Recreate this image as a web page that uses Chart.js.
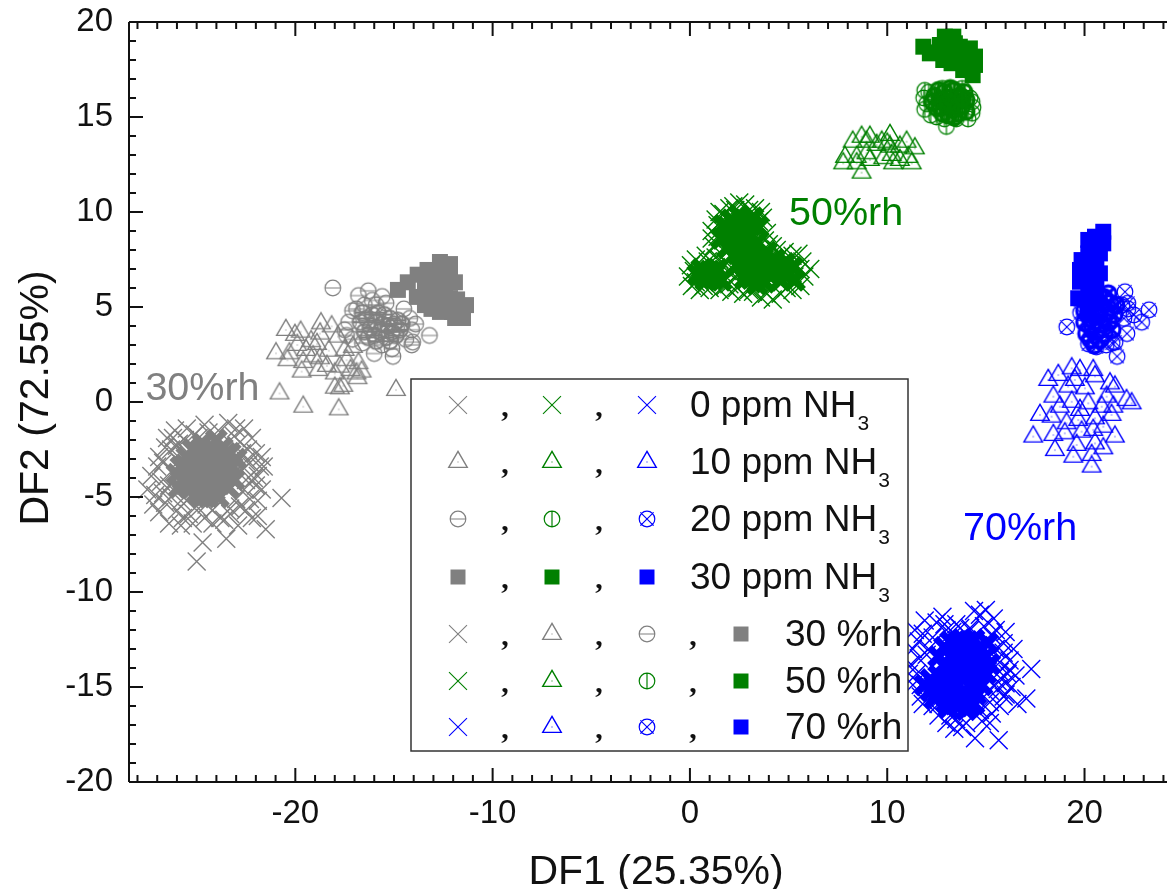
<!DOCTYPE html>
<html>
<head>
<meta charset="utf-8">
<title>DF1 vs DF2</title>
<script src="https://cdn.jsdelivr.net/npm/chart.js@4/dist/chart.umd.js"></script>
<style>
  html, body { margin: 0; padding: 0; background: #fff; overflow: hidden; }
  canvas { display: block; }
</style>
</head>
<body>
<canvas id="chart" width="1167" height="889"></canvas>
<script>
// === DATA ===
const xMajorTicks = [-20, -10, 0, 10, 20];
const yMajorTicks = [-20, -15, -10, -5, 0, 5, 10, 15, 20];
const xAxisTitle = 'DF1 (25.35%)';
const yAxisTitle = 'DF2 (72.55%)';

const groupLabels = [
  { text: '30%rh', x: -27.6, y: 0.1, color: '#808080' },
  { text: '50%rh', x: 5.02, y: 9.3, color: '#008000' },
  { text: '70%rh', x: 13.84, y: -7.26, color: '#0000ff' }
];

const ppmLabels = ['0 ppm NH', '10 ppm NH', '20 ppm NH', '30 ppm NH'];
const rhLabels = ['30 %rh', '50 %rh', '70 %rh'];

// 30 %rh
const gray0ppmCore = [[-25.8,-3.4],[-25.7,-4.1],[-25.5,-2.9],[-25.5,-3.7],[-25.4,-4.5],[-25.2,-2.5],[-25.2,-3.2],[-25.1,-4],[-25,-4.8],[-24.9,-2.8],[-24.9,-3.5],[-24.8,-4.3],[-24.7,-2.2],[-24.6,-3],[-24.6,-3.8],[-24.5,-4.6],[-24.4,-5],[-24.3,-2.5],[-24.3,-3.3],[-24.2,-4.1],[-24.1,-4.7],[-24,-2],[-24,-2.9],[-23.9,-3.6],[-23.8,-4.3],[-23.7,-2.4],[-23.6,-3.1],[-23.5,-3.9],[-23.4,-4.5],[-23.3,-2.7],[-23.2,-3.4],[-23.1,-4.1],[-26,-3.8],[-25.9,-4.5],[-24.8,-5],[-23.9,-5],[-23,-3],[-25.3,-3.6],[-25.6,-3.3],[-25,-3.1],[-24.7,-3.4],[-24.4,-3.7],[-24.1,-3.4],[-23.8,-3.1],[-24.1,-2.6],[-24.5,-2.7],[-24.8,-2.5],[-25,-4.4],[-24.4,-4.3],[-23.7,-4],[-25.4,-4.1],[-24.6,-4.9],[-24,-4.4],[-23.5,-3.5],[-23.5,-2.7]];
const gray0ppm = [[-27.5,-4.6],[-27.2,-5.4],[-27,-3.4],[-26.9,-2.9],[-26.8,-4.2],[-26.6,-5.3],[-26.5,-1.9],[-26.4,-6.4],[-26.3,-2.5],[-26.2,-3.7],[-26.1,-1.5],[-26,-5.7],[-25.9,-3.1],[-25.8,-5.2],[-25.6,-2],[-25.5,-1.4],[-25.4,-5.9],[-25,-8.4],[-24.7,-7.4],[-25.1,-1.7],[-24.9,-5.6],[-24.6,-6.1],[-24.4,-1.6],[-24.2,-5.7],[-23.9,-1.5],[-23.6,-6.2],[-23.5,-7.2],[-23.4,-1.1],[-23.3,-5.6],[-23.1,-1.8],[-23,-5.1],[-22.9,-6.5],[-22.8,-2.1],[-22.7,-3.6],[-22.6,-4.6],[-22.5,-5.7],[-22.4,-2.5],[-22.3,-3.2],[-22.2,-6.1],[-22.1,-4],[-22,-2.7],[-21.9,-5.2],[-21.8,-3.4],[-21.7,-2.9],[-21.5,-6.7],[-20.7,-5.05],[-27.3,-3.9],[-26.7,-4.8],[-22.6,-1.4],[-22,-4.4],[-24.5,-5.4],[-26,-2.3],[-27.1,-4.9],[-26.9,-5.8],[-26.7,-3.2],[-26.6,-2.4],[-26.4,-4.4],[-26.3,-5],[-26.2,-1.9],[-25.9,-2.2],[-25.7,-6.1],[-25.5,-5.2],[-25.2,-6.4],[-24.9,-1.9],[-24.6,-1.2],[-24.2,-6.4],[-23.8,-6.1],[-23.3,-5.9],[-23,-1.4],[-22.7,-2.7],[-22.5,-3.1],[-22.5,-4.1],[-22.3,-5.1],[-22.8,-5.5],[-22.2,-1.9],[-21.9,-3.9],[-21.7,-4.6],[-21.6,-3.4],[-21.9,-6],[-25.8,-6.5]];
const gray10ppm = [[-20.8,0.45],[-19.6,-0.25],[-17.8,-0.39],[-14.9,0.63],[-17.74,0.72],[-18,0.75],[-17.57,0.85],[-16.85,1.25],[-16.64,1.6],[-17.74,1.86],[-16.8,2.04],[-17.2,1.68],[-19.68,1.6],[-18.84,1.68],[-18.75,2.3],[-17.5,2.74],[-19.46,2.74],[-20.3,2.56],[-20.98,2.56],[-20.48,3.79],[-20.02,3.53],[-19.73,3.7],[-18.7,4.14],[-18.16,3.98],[-18.75,3.6],[-17.84,3.44],[-17.08,2.9],[-18.9,3.05],[-18.3,2.7],[-19.6,2.1],[-20.4,2.2],[-18,1.5],[-19.1,2.4],[-19.2,3.2],[-17.4,2.2],[-16.9,1.5],[-19.9,3],[-18.4,1.9]];
const gray20ppmCore = [[-16.7,4.2],[-16.5,3.7],[-16.4,4.4],[-16.2,3.9],[-16.1,4.6],[-16,3.5],[-15.9,4.2],[-15.8,4.7],[-15.7,3.7],[-15.6,4.1],[-15.5,4.6],[-15.4,3.4],[-15.3,4],[-15.2,4.4],[-15.1,3.7],[-15,4.1],[-14.9,3.5],[-14.8,4.3],[-14.7,3.8],[-14.6,4.1],[-16.3,3.4],[-16.6,4.7],[-15.9,3.2],[-15.2,3.2]];
const gray20ppm = [[-18.1,6],[-16.8,5.6],[-16.3,5.85],[-15.6,5.55],[-16.1,5.35],[-17.1,4.8],[-13.2,3.5],[-14.1,3],[-14.05,3.15],[-15.05,2.4],[-16,2.55],[-15.1,2.8],[-17.5,3.8],[-17.3,4.2],[-17.4,3.5],[-17.1,3.3],[-16.9,4.9],[-16.5,5.1],[-15.9,5.1],[-15.4,5.2],[-14.5,4.9],[-14.2,4.4],[-14.1,3.8],[-14.4,3.3],[-15.6,3],[-16.6,3.1],[-13.9,4.1]];
const gray30ppm = [[-14.8,5.9],[-14.3,6.3],[-13.8,6.7],[-13.3,6.95],[-12.67,7.37],[-12.16,7.26],[-13.43,6.26],[-12.82,6.58],[-12.16,6.68],[-13.84,5.53],[-13.18,5.79],[-12.42,6.05],[-11.91,6.3],[-13.43,5.1],[-12.77,5.26],[-12.16,5.47],[-11.35,5.1],[-11.5,4.42],[-12.06,4.74],[-12.67,4.74],[-11.9,4.42],[-13.1,4.9],[-11.8,5.4]];

// 50 %rh
const green0ppmCore = [[1.6,8.6],[1.7,9.3],[1.9,8.1],[2,8.9],[2.1,9.6],[2.3,8.3],[2.4,9.1],[2.5,9.8],[2.6,7.7],[2.7,8.6],[2.9,9.3],[3,8],[3.1,8.8],[3.2,9.7],[3.4,8.4],[3.45,9.2],[2.85,7.1],[3.1,6.5],[3.3,7.4],[3.5,6.8],[3.7,7.6],[3.8,6.3],[4,7.1],[4.1,6.6],[4.3,7.5],[4.5,6.9],[4.6,6.4],[4.8,7.3],[5,6.7],[5.2,7.1],[5.3,6.4],[3.4,6.2],[0.4,6.7],[0.6,7],[0.8,6.4],[1,6.9],[1.2,6.5],[1.4,7],[1.6,6.4],[2.4,7.2],[3.9,7.9],[2.8,6.5],[2.2,8.7],[2.6,9.4],[2.9,8.3],[2.3,9.4],[2.7,8.9],[3.1,9.3],[1.9,9.2],[3.1,7.7],[3.4,7],[3.7,6.9],[4.1,7.4],[4.4,7.2],[4.7,6.8],[3.6,6.5],[3.1,7.1],[0.7,6.7],[1.1,6.6],[1.3,6.8],[2.4,7.8],[2.9,6.8],[4.9,6.9]];
const green0ppm = [[-0.1,6.6],[0.05,7.2],[0.1,6.1],[0.3,7.5],[0.5,5.9],[0.8,7.7],[1,6],[1.3,7.6],[1.5,5.9],[1.9,6.9],[2,6.2],[2.1,5.8],[1.2,8.2],[1.1,9],[1.3,9.6],[1.5,10],[2,10.2],[2.5,10.5],[2.8,10.4],[3.3,10.2],[3.7,9.7],[3.9,8.9],[4,8.3],[4.4,8],[4.8,7.9],[5.2,7.7],[5.7,7.4],[6.1,7],[5.8,6.6],[5.6,6.1],[5.2,5.9],[4.6,5.7],[4.2,5.4],[3.6,5.5],[3.2,5.8],[2.7,5.7],[1.7,8],[2.3,10.1],[1.4,8.7],[3.6,10],[1.1,8.6],[1.4,9.3],[1.7,9.9],[2.2,10.3],[3,10.1],[3.5,9.5],[3.8,8.5],[1.5,7.5],[0.9,7.4],[0.2,6.9],[0.3,6.3],[0.7,6.1],[1.8,6.1],[2.3,6.6],[2.4,6],[3,5.9],[3.9,5.7],[4.9,6],[5.3,6.6],[5.6,7],[5.5,7.8],[4.6,7.7],[4.2,8.2],[1.8,7.4],[2.1,7.7]];
const green10ppm = [[8.7,12.07],[7.77,12.56],[8.25,13.7],[8.7,13.96],[8.95,13.7],[9.12,13.96],[7.86,12.9],[8.45,12.9],[8.95,13.09],[9.46,13.53],[9.72,13.7],[10.14,14.05],[10.14,13.44],[10.64,13.44],[10.98,13.7],[11.4,13.35],[11.07,12.9],[10.22,13],[9.8,12.83],[10.64,12.74],[11.24,12.56],[9.12,12.74],[8.45,12.56],[10.3,12.56],[10,13.6]];
const green20ppmCore = [[12.4,16.1],[12.5,15.5],[12.7,15.9],[12.8,15.2],[12.9,16.3],[13,15.6],[13.1,15.1],[13.2,16],[13.3,15.4],[13.4,16.4],[13.5,15.8],[13.6,15.2],[13.7,16.1],[13.8,15.6],[13.9,16.3],[14,15.3],[14,15.9],[12.6,16.4],[13.2,16.5],[12.3,15.8],[12.7,15.5],[13.4,15],[13.1,15.8],[13.6,15.5],[13.8,16]];
const green20ppm = [[11.9,16.4],[11.9,15.4],[13,14.5],[14.3,15.2],[14.35,15.5],[12.5,15],[13.8,16.5],[12.8,16.5],[11.85,16],[12.1,16.3],[12.2,15.1],[12.9,14.9],[13.5,14.9],[14.2,16],[14.1,14.9],[12,15.7],[14.3,15.8]];
const green30ppm = [[11.83,18.7],[12.92,19.23],[13.35,19.23],[13.43,18.88],[12.67,18.79],[13.68,18.7],[14.19,18.61],[14.45,18.18],[12.16,18.35],[12.84,18],[13.26,17.83],[13.85,17.9],[14.45,17.74],[13.85,17.47],[14.33,17.2],[13.35,18.35],[14.1,18.18],[12.6,18.4],[13.8,18.3]];

// 70 %rh
const blue0ppmCore = [[12.6,-13.4],[12.6,-14.4],[12.6,-15.3],[12.9,-12.9],[12.9,-13.9],[12.9,-14.9],[13,-15.8],[13.2,-12.6],[13.2,-13.4],[13.3,-14.4],[13.3,-15.4],[13.5,-13],[13.5,-14],[13.6,-14.9],[13.6,-16],[13.8,-12.5],[13.8,-13.5],[13.9,-14.4],[13.9,-15.5],[14.1,-13],[14.2,-13.9],[14.2,-14.9],[14.2,-16],[14.4,-12.5],[14.5,-13.4],[14.5,-14.4],[14.5,-15.4],[14.7,-12.9],[14.8,-13.9],[14.8,-14.9],[15,-13.4],[15,-14.3],[15.1,-12.7],[15.2,-13.8],[12.2,-14.6],[12.2,-15.2],[11.9,-14.9],[12.4,-15.6],[13.1,-16.1],[14,-16.2],[13.1,-13.9],[13.4,-13.5],[13.7,-14.4],[14,-13.5],[14.3,-13.4],[14.3,-14.4],[13.6,-13.9],[13,-14.4],[13.1,-14.9],[13.4,-15.9],[13.7,-15.4],[14.1,-15.4],[14.4,-14.9],[14.6,-13.9],[12.7,-14.9],[12.9,-15.4],[13.6,-12.6],[14.1,-12.6],[14.6,-13.2],[12.4,-14.9],[14.4,-15.9]];
const blue0ppm = [[17.3,-14.05],[17.05,-15.6],[15.65,-17.8],[15,-10.95],[14.45,-17.7],[14.7,-11.2],[14.2,-11.9],[13.5,-11.7],[13,-12],[12.5,-11.6],[11.9,-11.5],[11.4,-12],[11.3,-13],[11.2,-13.8],[11.6,-12.6],[12,-13.3],[11.3,-14.9],[11.7,-15.5],[12.3,-16],[12.6,-16.5],[13,-16.9],[13.5,-16.7],[13.8,-17.1],[14.8,-16.8],[15.3,-16.4],[15.7,-16],[16,-15.4],[16.3,-15],[16.5,-14.4],[16.2,-13.6],[16.4,-13],[15.9,-12.7],[16,-12.1],[15.5,-12],[15.4,-11.4],[15.7,-14.2],[15.6,-15.1],[15.2,-15.8],[14.4,-11],[16.6,-15.9],[16.1,-14.3],[11.1,-14.3],[12.8,-11.3],[15.9,-13.2],[11.6,-13.5],[11.5,-14.3],[11.7,-14.9],[11.8,-12.2],[12.3,-12.4],[12.1,-13],[11.8,-15.9],[12.6,-15.9],[13.2,-16.5],[14,-16.9],[14.7,-16.2],[15.2,-15.2],[15.6,-14.7],[15.7,-13.7],[15.5,-13],[15.3,-12.3],[14.9,-11.8],[14.2,-12],[13.7,-11.9],[13.3,-12.1],[12.9,-11.7],[16,-14.8],[16.2,-14.1],[15.9,-15.5],[15.2,-16.9],[13.4,-17.2]];
const blue10ppm = [[20.36,-3.4],[19.43,-2.88],[18.5,-2.53],[17.4,-1.82],[18.42,-1.74],[19.6,-2.26],[20.53,-2.18],[21.54,-1.82],[20.36,-2.79],[20.95,-2.44],[19,-1.65],[19.85,-1.56],[20.44,-1.47],[17.74,-0.68],[18.33,-0.77],[19.09,-1.12],[19.68,-0.95],[20.53,-0.86],[21.37,-0.68],[20.95,-1.3],[18.42,0.28],[19.35,0.01],[20.19,-0.07],[21.46,-0.25],[22.13,0.1],[22.39,-0.07],[21.12,0.28],[21.54,0.81],[21.29,0.98],[19.17,0.81],[20.02,0.72],[18.16,1.16],[18.67,1.42],[19.35,1.77],[19.77,1.68],[20.44,1.68],[20.53,1.35],[19.51,1.16],[20.87,-0.25],[19.77,-0.42],[18.75,-0.25]];
const blue20ppmCore = [[20,4.2],[20.1,3.6],[20.2,4.8],[20.3,3.3],[20.4,4],[20.5,5.2],[20.6,3.7],[20.6,4.5],[20.8,3.3],[20.8,5],[20.9,4.1],[21,5.5],[21,3.6],[21.1,4.7],[21.2,4.2],[21.3,5.2],[21.4,3.8],[21.5,4.6],[20.3,4.4],[20.7,5.6],[20,4.8],[21.6,5.1],[20.5,3],[21.2,5.7]];
const blue20ppm = [[19.1,3.95],[20.2,3.05],[21.65,2.4],[22.15,3.6],[22.9,4.2],[23.27,4.85],[22.5,4.58],[22.05,5.8],[21.55,3.15],[21.1,3],[19.8,4.7],[21.9,5.1],[22.2,5.2],[22,4.4],[21.4,3.1],[20.6,2.9],[22.2,4.9]];
const blue30ppm = [[20.95,8.96],[20.53,8.7],[20.19,8.53],[20.95,8.35],[20.19,7.82],[20.78,7.82],[19.85,7.47],[19.77,6.95],[20.6,7.21],[19.77,6.33],[20.27,6.6],[20.78,6.77],[19.68,5.46],[20.19,5.9],[20.6,6.07],[20.19,5.19],[20.6,5.37],[20.3,7.2],[20.2,4.7]];

// === MARKERS ===
const GRAY = '#808080';
const GREEN = '#008000';
const BLUE = '#0000ff';

function makeTriangle(color) {
    const c = document.createElement('canvas');
    c.width = 26; c.height = 26;
    const g = c.getContext('2d');
    const r = 10.7;
    g.strokeStyle = color;
    g.lineWidth = 1.4;
    g.beginPath();
    g.moveTo(13, 13 - r);
    g.lineTo(13 + r * 0.866, 13 + r / 2);
    g.lineTo(13 - r * 0.866, 13 + r / 2);
    g.closePath();
    g.stroke();
    g.fillStyle = color;
    g.fillRect(12.5, 12.5, 1, 1);
    return c;
}

// circle with a bar: 'h' gray, 'v' green, 'x' blue
function makeCircle(color, bar, lineWidth) {
    const c = document.createElement('canvas');
    c.width = 24; c.height = 24;
    const g = c.getContext('2d');
    const r = 7.8;
    g.strokeStyle = color;
    g.lineWidth = lineWidth;
    g.beginPath();
    g.arc(12, 12, r, 0, Math.PI * 2);
    if (bar === 'h') { g.moveTo(12 - r, 12); g.lineTo(12 + r, 12); }
    if (bar === 'v') { g.moveTo(12, 12 - r); g.lineTo(12, 12 + r); }
    if (bar === 'x') {
        const d = r * 0.85;
        g.moveTo(12 - d, 12 - d); g.lineTo(12 + d, 12 + d);
        g.moveTo(12 + d, 12 - d); g.lineTo(12 - d, 12 + d);
    }
    g.stroke();
    return c;
}

const marker = {
    triGray: makeTriangle(GRAY), triGreen: makeTriangle(GREEN), triBlue: makeTriangle(BLUE),
    cirGray: makeCircle(GRAY, 'h', 1.2), cirGreen: makeCircle(GREEN, 'v', 1.2), cirBlue: makeCircle(BLUE, 'x', 1.2),
    cirGrayCore: makeCircle(GRAY, 'h', 2), cirGreenCore: makeCircle(GREEN, 'v', 3.2), cirBlueCore: makeCircle(BLUE, 'x', 3.2)
};

function cross(points, color, width) {
    return { data: points.map(p => ({ x: p[0], y: p[1] })), pointStyle: 'crossRot', pointRadius: 12.7,
             pointBorderColor: color, pointBackgroundColor: color, pointBorderWidth: width };
}
function square(points, color) {
    return { data: points.map(p => ({ x: p[0], y: p[1] })), pointStyle: 'rect', pointRadius: 11.3,
             pointBorderColor: color, pointBackgroundColor: color, pointBorderWidth: 0 };
}
function sprite(points, image) {
    return { data: points.map(p => ({ x: p[0], y: p[1] })), pointStyle: image, pointRadius: 10,
             pointBorderWidth: 0 };
}

const datasets = [
    sprite(blue20ppmCore, marker.cirBlueCore), sprite(blue20ppm, marker.cirBlue), square(blue30ppm, BLUE),
    sprite(blue10ppm, marker.triBlue), cross(blue0ppmCore, BLUE, 7), cross(blue0ppm, BLUE, 1.4),
    square(green30ppm, GREEN), sprite(green20ppmCore, marker.cirGreenCore), sprite(green20ppm, marker.cirGreen),
    sprite(green10ppm, marker.triGreen), cross(green0ppmCore, GREEN, 7), cross(green0ppm, GREEN, 1.4),
    square(gray30ppm, GRAY), sprite(gray20ppmCore, marker.cirGrayCore), sprite(gray20ppm, marker.cirGray),
    sprite(gray10ppm, marker.triGray), cross(gray0ppmCore, GRAY, 7), cross(gray0ppm, GRAY, 1.4)
];

// === FRAME, TICKS AND TEXT ===
const frameAndText = {
    id: 'frameAndText',
    afterDatasetsDraw(chart) {
        const { ctx, chartArea: a, scales: { x, y } } = chart;
        ctx.save();
        ctx.strokeStyle = '#111';
        ctx.lineWidth = 2;
        ctx.beginPath();
        ctx.moveTo(a.left, a.top); ctx.lineTo(a.right, a.top);
        ctx.moveTo(a.left, a.top); ctx.lineTo(a.left, a.bottom);
        ctx.moveTo(a.left, a.bottom); ctx.lineTo(a.right, a.bottom);
        for (let v = -28; v <= 24; v++) {
            const len = v % 10 === 0 ? 14 : 7;
            const px = x.getPixelForValue(v);
            ctx.moveTo(px, a.bottom); ctx.lineTo(px, a.bottom - len);
            ctx.moveTo(px, a.top); ctx.lineTo(px, a.top + len);
        }
        for (let v = -19; v <= 19; v++) {
            const len = v % 5 === 0 ? 14 : 7;
            const py = y.getPixelForValue(v);
            ctx.moveTo(a.left, py); ctx.lineTo(a.left + len, py);
        }
        ctx.stroke();

        ctx.textAlign = 'left';
        ctx.textBaseline = 'alphabetic';
        ctx.font = '39.5px "Liberation Sans"';
        groupLabels.forEach(l => {
            ctx.fillStyle = l.color;
            ctx.fillText(l.text, x.getPixelForValue(l.x), y.getPixelForValue(l.y));
        });

        ctx.fillStyle = '#111';
        ctx.font = '41px "Liberation Sans"';
        ctx.textAlign = 'center';
        ctx.fillText(xAxisTitle, 656, 884);
        ctx.save();
        ctx.translate(48, 398);
        ctx.rotate(-Math.PI / 2);
        ctx.fillText(yAxisTitle, 0, 0);
        ctx.restore();

        drawLegendBox(ctx);
        ctx.restore();
    }
};

function drawMark(ctx, style, color, x, y) {
    ctx.strokeStyle = color;
    ctx.fillStyle = color;
    if (style === 'crossRot') {
        ctx.lineWidth = 1.1;
        Chart.helpers.drawPoint(ctx, { pointStyle: 'crossRot', radius: 12.7, rotation: 0, borderWidth: 1.1 }, x, y);
    } else if (style === 'rect') {
        ctx.lineWidth = 0;
        Chart.helpers.drawPoint(ctx, { pointStyle: 'rect', radius: 10.6, rotation: 0, borderWidth: 0 }, x, y);
    } else {
        Chart.helpers.drawPoint(ctx, { pointStyle: style, radius: 10, rotation: 0, borderWidth: 0 }, x, y);
    }
}

function drawLegendBox(ctx) {
    const rows = [405, 462, 519, 577, 634, 681, 727];
    const cols = [458, 552, 647, 741];
    const commas = [505, 599, 693];
    const ppmColors = [GRAY, GREEN, BLUE];
    const ppmStyles = [
        ['crossRot', 'crossRot', 'crossRot'],
        [marker.triGray, marker.triGreen, marker.triBlue],
        [marker.cirGray, marker.cirGreen, marker.cirBlue],
        ['rect', 'rect', 'rect']
    ];
    const rhStyles = [
        ['crossRot', marker.triGray, marker.cirGray, 'rect'],
        ['crossRot', marker.triGreen, marker.cirGreen, 'rect'],
        ['crossRot', marker.triBlue, marker.cirBlue, 'rect']
    ];

    ctx.fillStyle = '#fff';
    ctx.strokeStyle = '#333';
    ctx.lineWidth = 1.5;
    ctx.fillRect(411, 379, 497, 372);
    ctx.strokeRect(411, 379, 497, 372);

    ctx.textAlign = 'left';
    ctx.textBaseline = 'alphabetic';
    ppmLabels.forEach((label, i) => {
        const y = rows[i];
        ppmStyles[i].forEach((s, j) => drawMark(ctx, s, ppmColors[j], cols[j], y));
        ctx.fillStyle = '#111';
        ctx.font = 'bold 30px "Liberation Serif"';
        ctx.textAlign = 'center';
        ctx.fillText(',', commas[0], y + 11);
        ctx.fillText(',', commas[1], y + 11);
        ctx.textAlign = 'left';
        ctx.font = '37px "Liberation Sans"';
        const tx = 690;
        ctx.fillText(label, tx, y + 12);
        const w = ctx.measureText(label).width;
        ctx.font = '21px "Liberation Sans"';
        ctx.fillText('3', tx + w + 1, y + 25);
    });
    rhLabels.forEach((label, i) => {
        const y = rows[i + 4];
        rhStyles[i].forEach((s, j) => drawMark(ctx, s, ppmColors[i], cols[j], y));
        ctx.fillStyle = '#111';
        ctx.font = 'bold 30px "Liberation Serif"';
        ctx.textAlign = 'center';
        commas.forEach(cx => ctx.fillText(',', cx, y + 11));
        ctx.textAlign = 'left';
        ctx.font = '37px "Liberation Sans"';
        ctx.fillText(label, 785, y + 12);
    });
}

// === CHART ===
new Chart(document.getElementById('chart'), {
    type: 'scatter',
    data: { datasets: datasets },
    options: {
        responsive: false,
        animation: false,
        events: [],
        layout: { autoPadding: false, padding: { top: 22, right: 0, left: 0, bottom: 0 } },
        plugins: { legend: { display: false }, tooltip: { enabled: false } },
        scales: {
            x: {
                type: 'linear',
                min: -28.43,
                max: 24.18,
                afterFit: s => { s.height = 107; s.paddingLeft = 0; s.paddingRight = 0; },
                afterBuildTicks: s => { s.ticks = xMajorTicks.map(v => ({ value: v })); },
                grid: { display: false, drawTicks: false },
                border: { display: false },
                ticks: { color: '#111', padding: 12, maxRotation: 0, font: { family: '"Liberation Sans"', size: 33 } }
            },
            y: {
                type: 'linear',
                min: -20,
                max: 20,
                afterFit: s => { s.width = 129; s.paddingTop = 0; s.paddingBottom = 0; },
                afterBuildTicks: s => { s.ticks = yMajorTicks.map(v => ({ value: v })); },
                grid: { display: false, drawTicks: false },
                border: { display: false },
                ticks: { color: '#111', padding: 16, font: { family: '"Liberation Sans"', size: 33 } }
            }
        }
    },
    plugins: [frameAndText]
});
</script>
</body>
</html>
